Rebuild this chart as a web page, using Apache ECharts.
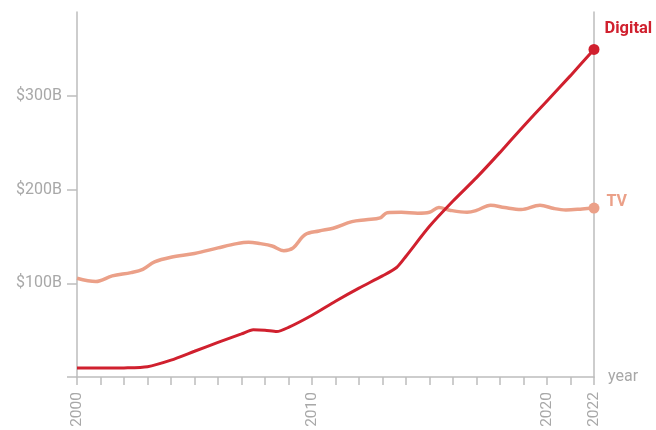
<!DOCTYPE html>
<html>
<head>
<meta charset="utf-8">
<script src="https://cdn.jsdelivr.net/npm/echarts@6/dist/echarts.min.js"></script>
<style>
html,body{margin:0;padding:0;background:#fff;}
#chart{width:656px;height:430px;}
</style>
</head>
<body>
<div id="chart"></div>
<script>
var digitalYears = [2000,2001,2002,2003,2004,2005,2006,2007,2007.5,2008,2008.5,2009,2010,2011,2012,2013,2013.6,2014,2015,2016,2017,2018,2019,2020,2021,2022];
var digitalValues = [9.5,9.5,9.7,11,18,27.5,37,46,50.5,50,48.5,53,66,81,95,108,117,129,161,188,213,240,268,295,322,350];

var tvYears = [2000,2000.8,2001.5,2002.3,2002.8,2003.3,2004,2005,2006,2006.8,2007.3,2007.8,2008.3,2008.8,2009.2,2009.7,2010.3,2010.9,2011.7,2012.3,2012.9,2013.2,2013.8,2014.5,2015,2015.4,2015.9,2016.6,2017,2017.6,2018.2,2018.9,2019.7,2020.3,2020.8,2021.5,2022];
var tvValues = [105.5,102,108,111.5,115,123,128,132,138,142.5,144,142.5,140,135,138,152,156,159,166,168,170,175.5,176,175,176,181,178,176,178,183.5,181,179,183.5,180,178.5,179.5,180.5];

var xTickLabels = [2000, 2010, 2020, 2022];
var yTickLabels = ['$100B', '$200B', '$300B'];

var digitalColor = '#d0202e';
var tvColor = '#eba088';
var axisColor = '#bdbdbd';
var textColor = '#a8a8a8';

function buildData(xs, ys, color, name, offset, size) {
  return xs.map(function (x, i) {
    var item = { value: [x, ys[i]] };
    if (i === xs.length - 1) {
      item.symbol = 'circle';
      item.symbolSize = 11;
      item.itemStyle = { color: color };
      item.label = {
        show: true, position: 'right', formatter: name, distance: 5,
        offset: offset, color: color, fontWeight: 'bold', fontSize: size,
        fontFamily: 'Roboto'
      };
    }
    return item;
  });
}

var chart = echarts.init(document.getElementById('chart'));
chart.setOption({
  animation: false,
  grid: { left: 77, right: 62, top: 12, bottom: 53 },
  xAxis: {
    type: 'value', min: 2000, max: 2022, interval: 1,
    name: 'year', nameLocation: 'end', nameGap: 14,
    nameTextStyle: { color: textColor, fontSize: 16, fontFamily: 'Roboto', verticalAlign: 'middle' },
    axisLine: { show: true, lineStyle: { color: axisColor, width: 1.5 } },
    axisTick: { show: true, length: 8, lineStyle: { color: axisColor, width: 1.5 } },
    splitLine: { show: false },
    axisLabel: {
      rotate: 90, margin: 15, color: textColor, fontSize: 15.5, fontFamily: 'Roboto',
      showMinLabel: true, showMaxLabel: true,
      formatter: function (v) { return xTickLabels.indexOf(v) >= 0 ? String(v) : ''; }
    }
  },
  yAxis: [{
    type: 'value', min: 0, max: 390, interval: 100,
    axisLine: { show: true, lineStyle: { color: axisColor, width: 1.5 } },
    axisTick: { show: true, length: 10, lineStyle: { color: axisColor, width: 1.5 } },
    splitLine: { show: false },
    axisLabel: {
      margin: 15, color: textColor, fontSize: 16, fontFamily: 'Roboto',
      showMaxLabel: false,
      formatter: function (v) { var i = v / 100 - 1; return yTickLabels[i] || ''; }
    }
  }, {
    type: 'value', min: 0, max: 390, position: 'right',
    axisLine: { show: true, lineStyle: { color: axisColor, width: 1.5 } },
    axisTick: { show: false }, axisLabel: { show: false }, splitLine: { show: false }
  }],
  series: [{
    name: 'TV', type: 'line', smooth: 0.35, symbol: 'none', showSymbol: true, showAllSymbol: true,
    lineStyle: { color: tvColor, width: 3.5 },
    itemStyle: { color: tvColor },
    data: buildData(tvYears, tvValues, tvColor, 'TV', [2, -6], 16),
    z: 2
  }, {
    name: 'Digital', type: 'line', smooth: 0.25, symbol: 'none', showSymbol: true, showAllSymbol: true,
    lineStyle: { color: digitalColor, width: 3 },
    itemStyle: { color: digitalColor },
    data: buildData(digitalYears, digitalValues, digitalColor, 'Digital', [0, -21], 16.5),
    z: 3
  }]
});
</script>
</body>
</html>
